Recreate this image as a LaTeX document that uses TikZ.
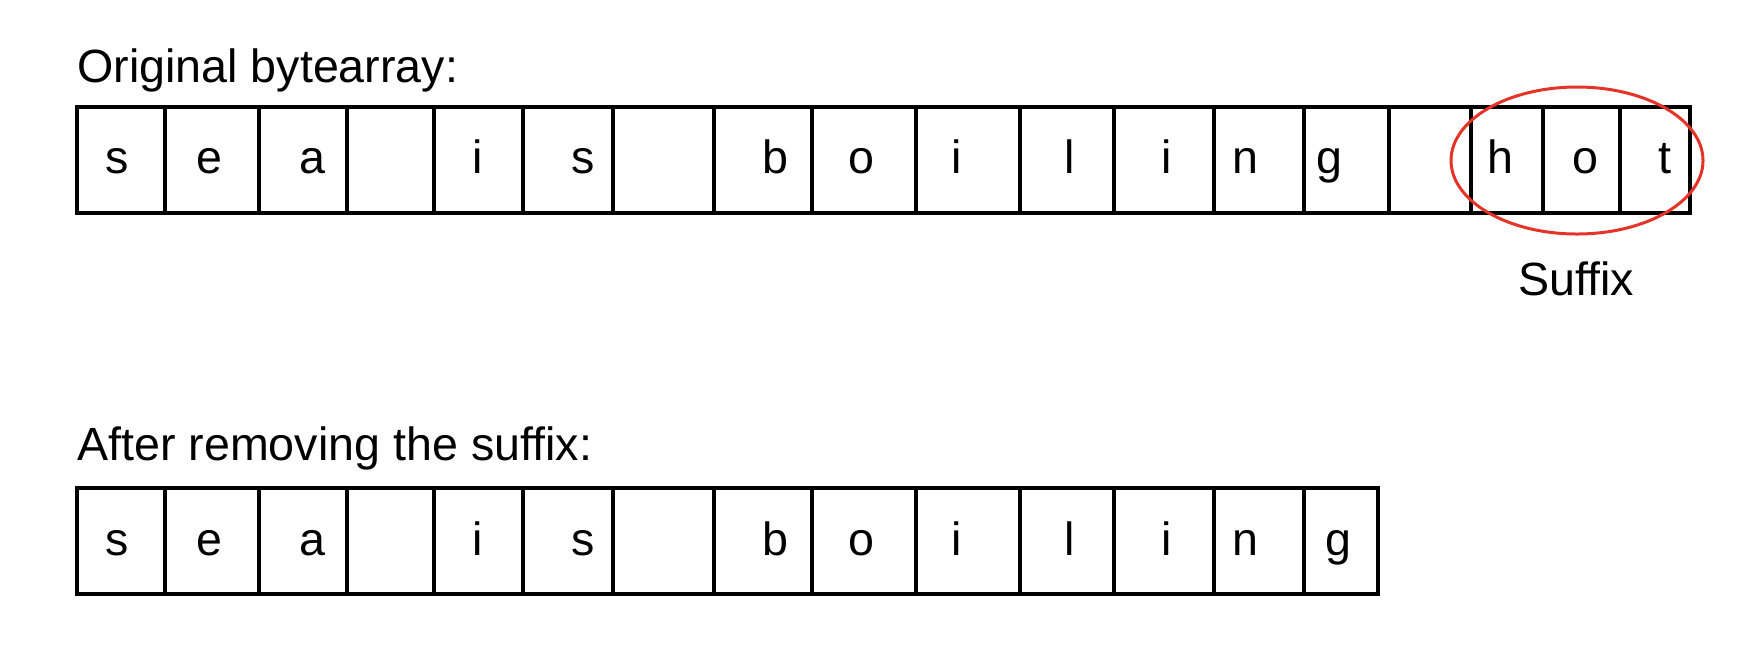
\documentclass[tikz,border=0pt]{standalone}
\usepackage{fontspec}
\setmainfont{Liberation Sans}
\usepackage{tikz}
\usetikzlibrary{shapes.geometric}
\definecolor{suffixred}{RGB}{228,52,40}

\begin{document}
\begin{tikzpicture}[x=0.5pt, y=-0.5pt,
        cell/.style={line width=1.65pt},
        letter/.style={anchor=base, inner sep=0pt, font=\fontsize{23.3}{28}\selectfont},
        caption/.style={anchor=base west, inner sep=0pt, font=\fontsize{23.3}{28}\selectfont},
        marker/.style={ellipse, draw=suffixred, line width=1.5pt, inner sep=0pt,
                minimum width=126pt, minimum height=73.5pt}]
    \useasboundingbox (0,0) rectangle (1750,650);

    \node[caption] (orig) at (77,82) {Original bytearray:};
    \foreach \l/\r/\x/\c [count=\i] in {77/165/117/s, 165/259/209/e, 259/347/312/a,
            347/434/390/{}, 434/523/478/i, 523/613/583/s, 613/714/663/{},
            714/812/775/b, 812/916/861/o, 916/1020/957/i, 1020/1114/1070/l,
            1114/1214/1167/i, 1214/1304/1245/n, 1304/1389/1329/g, 1389/1471/1430/{},
            1471/1543/1500/h, 1543/1620/1585/o, 1620/1690/1665/t}
        \draw[cell] (\l,107) rectangle (\r,213) node[letter] (top\i) at (\x,173) {\c};

    \node[marker] (hot) at (1577,160.5) {};
    \node[letter] (suffix) at (1576,295) {Suffix};

    \node[caption] (after) at (77,460) {After removing the suffix:};
    \foreach \l/\r/\x/\c [count=\i] in {77/165/117/s, 165/259/209/e, 259/347/312/a,
            347/434/390/{}, 434/523/478/i, 523/613/583/s, 613/714/663/{},
            714/812/775/b, 812/916/861/o, 916/1020/957/i, 1020/1114/1070/l,
            1114/1214/1167/i, 1214/1304/1245/n, 1304/1378/1338/g}
        \draw[cell] (\l,488) rectangle (\r,594) node[letter] (bot\i) at (\x,555) {\c};
\end{tikzpicture}
\end{document}
